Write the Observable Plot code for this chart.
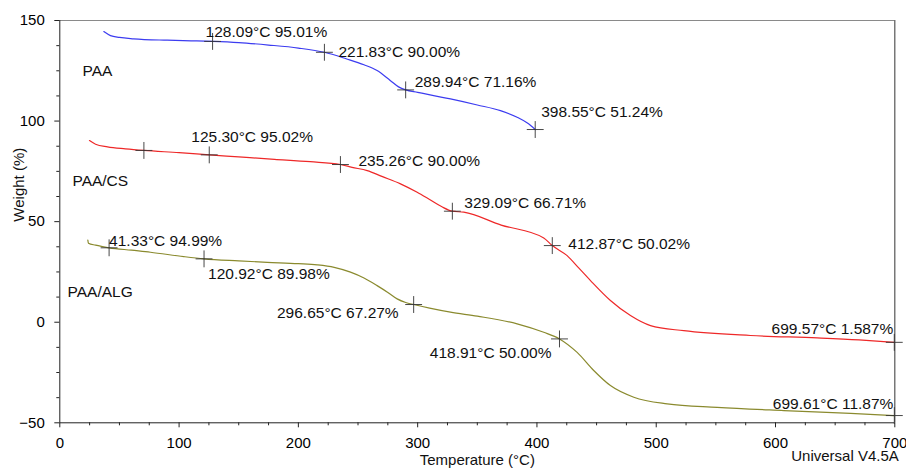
<!DOCTYPE html>
<html><head><meta charset="utf-8">
<script src="https://cdn.jsdelivr.net/npm/d3@7"></script>
<script src="https://cdn.jsdelivr.net/npm/@observablehq/plot@0.6"></script>
<style>
body{margin:0;background:#fff}
#chart svg{font-family:"Liberation Sans",Arial,sans-serif;overflow:visible}
</style>
</head><body><div id="chart"></div>
<script>
// ---- data (plotted weight, offset curves as in the instrument print) ----
const paaTemp   = [36.9,42.5,50,61.8,90,110,128.09,150,175,200,221.83,240,255,266,277,284,289.94,300,327.5,350,369.4,383.4,392,398.55];
const paaWeight = [144.5,142.5,141.6,140.9,140.2,139.9,139.6,139,137.8,136.3,134.2,131,128,125.1,120.2,117,115.5,114.3,111,108,105.2,101.9,99,95.8];

const csTemp   = [24.9,30,40,55,70.5,100,125.30,150,180,210,235.26,245,257.7,270,285.6,299.6,310,320,329.09,338.7,370,405.7,412.87,425.3,435,444.9,461.6,478.4,495.2,523.1,579,634.9,670,699.57];
const csWeight = [90.3,88.5,87.2,86.2,85.4,84.3,83.2,82.2,81,79.8,78.4,77,75.4,72.5,68.8,64.6,61,57.5,55.2,54.7,48.3,41.9,38.1,33.1,27,20.7,10.8,3.3,-1.7,-4.2,-6.6,-7.8,-8.8,-10.0];

const algTemp   = [23.5,24,30,41.33,60,76,104,120.92,150,173.9,200,215.8,230,243.7,255,266,275,282.8,290,296.65,310,327.5,350,383.4,405.7,418.91,433.7,447.6,461.6,481.2,509.2,551.1,607,662.9,699.61];
const algWeight = [40.8,39.3,38.3,37.0,35.8,34.8,32.6,31.5,30.5,29.8,29.1,28.5,27.3,24.9,22,18.2,14.8,11.6,9.8,8.8,7,5.0,3,-0.8,-5.0,-8.3,-15.0,-24.0,-31.5,-37.3,-40.6,-42.3,-43.9,-45.3,-46.4];

// analysis points (cross markers) and their annotation texts
const markSeries = ["PAA","PAA","PAA","PAA","PAA/CS","PAA/CS","PAA/CS","PAA/CS","PAA/CS","PAA/CS","PAA/ALG","PAA/ALG","PAA/ALG","PAA/ALG","PAA/ALG"];
const markTemp   = [128.09,221.83,289.94,398.55,70.5,125.30,235.26,329.09,412.87,699.57,41.33,120.92,296.65,418.91,699.61];
const markWeight = [139.6,134.2,115.5,95.8,85.4,83.2,78.4,55.2,38.1,-10.0,37.0,31.5,8.8,-8.3,-46.4];
const markLabel  = ["128.09°C 95.01%","221.83°C 90.00%","289.94°C 71.16%","398.55°C 51.24%",null,"125.30°C 95.02%","235.26°C 90.00%","329.09°C 66.71%","412.87°C 50.02%","699.57°C 1.587%","41.33°C 94.99%","120.92°C 89.98%","296.65°C 67.27%","418.91°C 50.00%","699.61°C 11.87%"];

// series name labels
const seriesNames = ["PAA","PAA/CS","PAA/ALG"];
const seriesLabelTemp = [19,10.6,6.5];
const seriesLabelWeight = [125.1,70.4,14.9];

// ticks
const xTicks = [0,100,200,300,400,500,600,700];
const xMinor = [25,50,75,125,150,175,225,250,275,325,350,375,425,450,475,525,550,575,625,650,675];
const yTicks = [150,100,50,0,-50];
const yMinor = [137.5,125,112.5,87.5,75,62.5,37.5,25,12.5,-12.5,-25,-37.5];

// ---- styles ----
const colors = {"PAA":"#3c3cf0","PAA/CS":"#ee2828","PAA/ALG":"#8a8a2e"};
// annotation offsets (px) relative to the cross marker: [dx, dy, anchor]
const labelLayout = [[-7,-9,"start"],[14,0,"start"],[9,-8,"start"],[6,-17,"start"],null,[-18,-18,"start"],[18,-3,"start"],[12,-8,"start"],[16,-2,"start"],[-1,-13,"end"],[0,-7,"start"],[4,15,"start"],[-15,9,"end"],[-8,14,"end"],[-1,-12,"end"]];

const toRows = (name, xs, ys) => xs.map((x,i)=>({series:name, temp:x, weight:ys[i]}));
const curves = [toRows("PAA",paaTemp,paaWeight), toRows("PAA/CS",csTemp,csWeight), toRows("PAA/ALG",algTemp,algWeight)];
const marks = markTemp.map((t,i)=>({series:markSeries[i], temp:t, weight:markWeight[i], label:markLabel[i]}));
const names = seriesNames.map((n,i)=>({name:n, temp:seriesLabelTemp[i], weight:seriesLabelWeight[i]}));

const FS = 15.5;
const labelMarks = marks.map((m,i)=> m.label ? Plot.text([m], {x:"temp", y:"weight", text:"label", dx:labelLayout[i][0], dy:labelLayout[i][1], textAnchor:labelLayout[i][2], fontSize:FS, fill:"#111"}) : null).filter(Boolean);

const chart = Plot.plot({
  width: 906, height: 468,
  marginLeft: 59.3, marginRight: 11.7, marginTop: 20, marginBottom: 45.7,
  x: {domain:[0,700]},
  y: {domain:[-50,150]},
  style: {fontFamily:'"Liberation Sans",Arial,sans-serif', fontSize:"15px", background:"#fff"},
  marks: [
    Plot.ruleY([150], {stroke:"#8a8a8a", strokeWidth:1.2}),
    Plot.ruleX([700], {stroke:"#555", strokeWidth:1.2}),
    Plot.ruleX([0], {stroke:"#222", strokeWidth:1}),
    Plot.ruleY([-50], {stroke:"#222", strokeWidth:1}),
    Plot.axisX({ticks:xTicks, tickSize:5, tickPadding:10, fontSize:15, label:null, stroke:"#222"}),
    Plot.axisX({ticks:xMinor, tickSize:3, tickFormat:()=> "", label:null, stroke:"#222"}),
    Plot.axisY({ticks:yTicks, tickSize:5, tickPadding:10, fontSize:15, label:null, stroke:"#222"}),
    Plot.axisY({ticks:yMinor, tickSize:3, tickFormat:()=> "", label:null, stroke:"#222"}),
    ...curves.map(rows => Plot.line(rows, {x:"temp", y:"weight", stroke:colors[rows[0].series], strokeWidth:1.2, curve:"monotone-x"})),
    Plot.dot(marks, {x:"temp", y:"weight", symbol:"plus", r:5.5, stroke:"#333", strokeWidth:0.9}),
    ...labelMarks,
    Plot.text(names, {x:"temp", y:"weight", text:"name", textAnchor:"start", fontSize:FS, fill:"#111"}),
    Plot.text(["Weight (%)"], {frameAnchor:"left", rotate:-90, dx:-41, fontSize:15, fill:"#111"}),
    Plot.text(["Temperature (°C)"], {frameAnchor:"bottom", dy:42, fontSize:15, fill:"#111"}),
    Plot.text(["Universal V4.5A"], {frameAnchor:"bottom-right", textAnchor:"end", dx:4, dy:38, fontSize:15, fill:"#111"})
  ]
});
document.getElementById("chart").appendChild(chart);
</script>
</body></html>
